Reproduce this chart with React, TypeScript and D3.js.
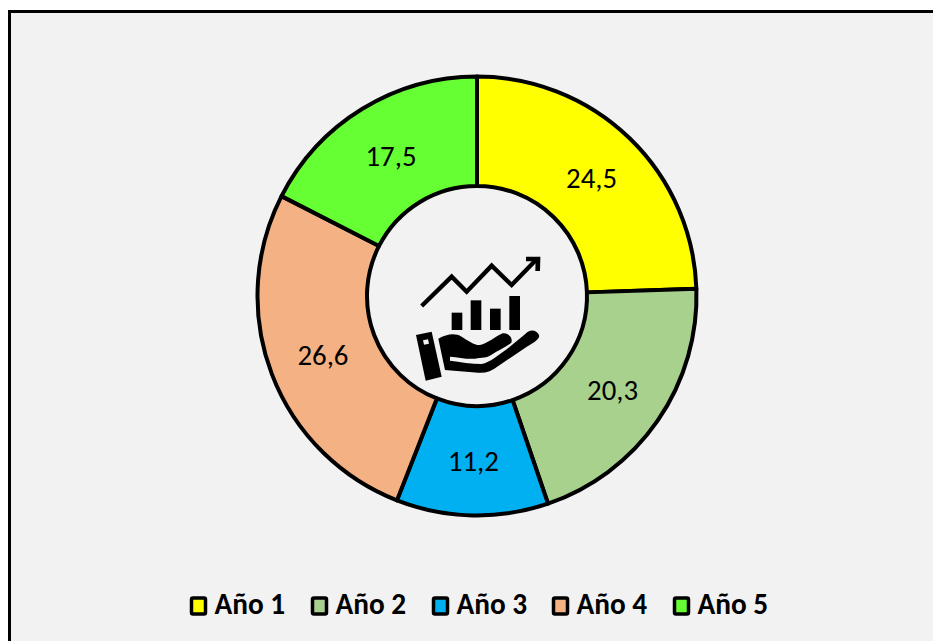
import React from "react";
import * as d3 from "d3";

const categories = ["Año 1", "Año 2", "Año 3", "Año 4", "Año 5"];
const values = [24.5, 20.3, 11.2, 26.6, 17.5];
const labels = ["24,5", "20,3", "11,2", "26,6", "17,5"];
const colors = ["#FFFF00", "#A9D18E", "#00B0F0", "#F4B183", "#66FF33"];
const legendX = [190, 311, 432, 552, 673];
const barX = [155, 212, 270, 328];
const barTop = [218, 181, 206, 168];

const W = 933, H = 641, CX = 477, CY = 296, RO = 219.5, RI = 110;
const FONT = "Carlito, Calibri, Lato, sans-serif";

export default function App() {
  const pie = d3.pie<number>().sort(null)(values);
  const arc = d3.arc<d3.PieArcDatum<number>>().innerRadius(RI).outerRadius(RO);
  return (
    <svg width={W} height={H} viewBox={`0 0 ${W} ${H}`} style={{ position: "fixed", left: 0, top: 0, display: "block", background: "#fff" }}>
      <rect x={9.5} y={11.5} width={W + 20} height={H + 20} fill="#F2F2F2" stroke="#000" strokeWidth={3} />
      <g transform={`translate(${CX},${CY})`}>
        {pie.map((d, i) => (
          <path key={categories[i]} d={arc(d) || ""} fill={colors[i]} stroke="#000" strokeWidth={4} strokeLinejoin="round" />
        ))}
        {pie.map((d, i) => {
          const [x, y] = arc.centroid(d);
          return (
            <text key={labels[i]} x={x} y={y + 1} textAnchor="middle" dominantBaseline="central" fontFamily={FONT} fontSize={28.8} fill="#000">
              {labels[i]}
            </text>
          );
        })}
      </g>
      <g transform="translate(400,240) scale(0.3333)">
        <path d="M65,198 L155,110 L200,155 L275,77 L335,135 L410,58" fill="none" stroke="#000" strokeWidth={13} />
        <path d="M378,57 L414,57 L413,93" fill="none" stroke="#000" strokeWidth={14} />
        {barX.map((x, i) => (
          <rect key={x} x={x} y={barTop[i]} width={32} height={270 - barTop[i]} fill="#000" />
        ))}
        <path d="M48,285 L95,275 L125,410 L77,422 Z" fill="#000" />
        <path d="M69,301 L84,298 L87,311 L72,314 Z" fill="#F2F2F2" />
        <path
          d="M115,296 C140,282 165,278 185,290 C205,302 222,316 240,315 C262,310 285,290 305,281 C322,276 340,292 334,308 C318,322 295,330 272,346 C262,354 245,353 225,356 C200,358 175,352 150,350 L150,362 C180,366 215,372 245,372 C270,368 295,345 320,328 L375,283 C388,266 412,268 418,288 C414,304 392,312 375,324 L295,378 C275,394 255,400 235,398 L135,390 Z"
          fill="#000"
        />
      </g>
      {categories.map((c, i) => (
        <g key={c}>
          <rect x={legendX[i] + 1.5} y={598} width={14} height={16} rx={1.5} fill={colors[i]} stroke="#000" strokeWidth={3.5} />
          <text x={legendX[i] + 24.5} y={614} fontFamily={FONT} fontSize={29.3} fontWeight={700} fill="#000">
            {c}
          </text>
        </g>
      ))}
    </svg>
  );
}
